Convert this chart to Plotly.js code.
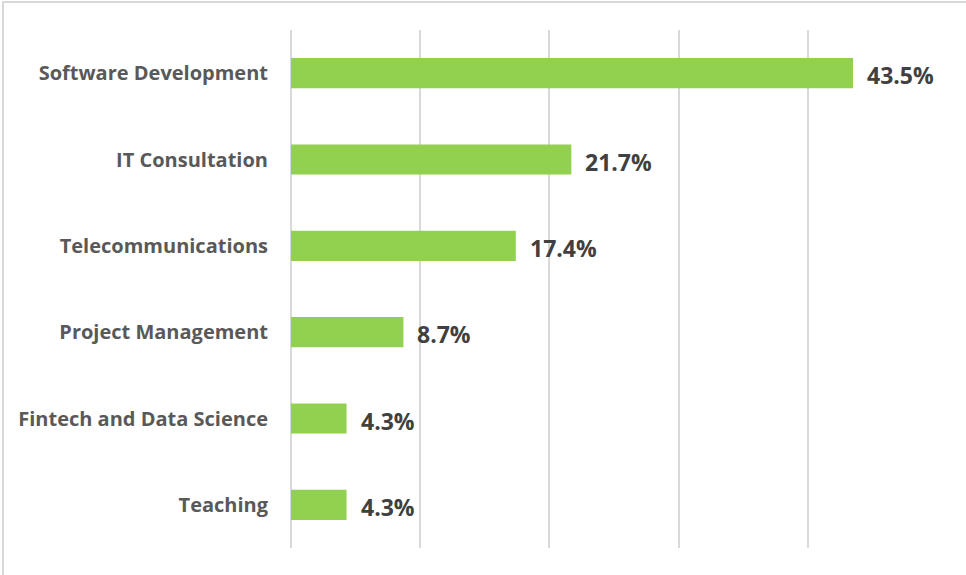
<!DOCTYPE html>
<html>
<head>
<meta charset="utf-8">
<script src="https://cdn.plot.ly/plotly-3.0.1.min.js"></script>
<style>
  html, body { margin: 0; padding: 0; background: #fff; }
  #chart { width: 966px; height: 575px; position: absolute; left: 0; top: 0; }
  .edge { position: absolute; background: #d9d9d9; pointer-events: none; }
</style>
</head>
<body>
<div id="chart"></div>
<div class="edge" style="left:2px; top:1px; width:964px; height:2px;"></div>
<div class="edge" style="left:2px; top:1px; width:2px; height:574px;"></div>
<script>
const categories = ["Software Development", "IT Consultation", "Telecommunications", "Project Management", "Fintech and Data Science", "Teaching"];
const values = [43.5, 21.7, 17.4, 8.7, 4.3, 4.3];
const valueLabels = ["43.5%", "21.7%", "17.4%", "8.7%", "4.3%", "4.3%"];
const xTicks = [0, 10, 20, 30, 40, 50];

const trace = {
  type: "bar",
  orientation: "h",
  y: categories,
  x: values,
  marker: { color: "#92D050" },
  width: 0.35,
  hoverinfo: "none"
};

const annotations = categories.map((c, i) => ({
  x: values[i], y: c, xref: "x", yref: "y",
  text: valueLabels[i], showarrow: false,
  xanchor: "left", yanchor: "middle", xshift: 12, yshift: -2,
  font: { family: "Open Sans, sans-serif", size: 23, color: "#404040", weight: 700 }
}));

const layout = {
  width: 966, height: 575,
  margin: { l: 291, r: 29, t: 30, b: 27, pad: 0 },
  paper_bgcolor: "#ffffff", plot_bgcolor: "#ffffff",
  showlegend: false,
  xaxis: {
    range: [0, 50], tickvals: xTicks, showticklabels: false,
    showgrid: true, gridcolor: "#d9d9d9", gridwidth: 2,
    zeroline: true, zerolinecolor: "#d9d9d9", zerolinewidth: 2,
    fixedrange: true
  },
  yaxis: {
    autorange: "reversed", type: "category",
    showgrid: false, zeroline: false, showline: false, ticks: "",
    ticklabelstandoff: 22,
    tickfont: { family: "Open Sans, sans-serif", size: 20, color: "#595959", weight: 700 },
    fixedrange: true
  },
  annotations: annotations
};

Plotly.newPlot("chart", [trace], layout, { displayModeBar: false, staticPlot: true });
</script>
</body>
</html>
